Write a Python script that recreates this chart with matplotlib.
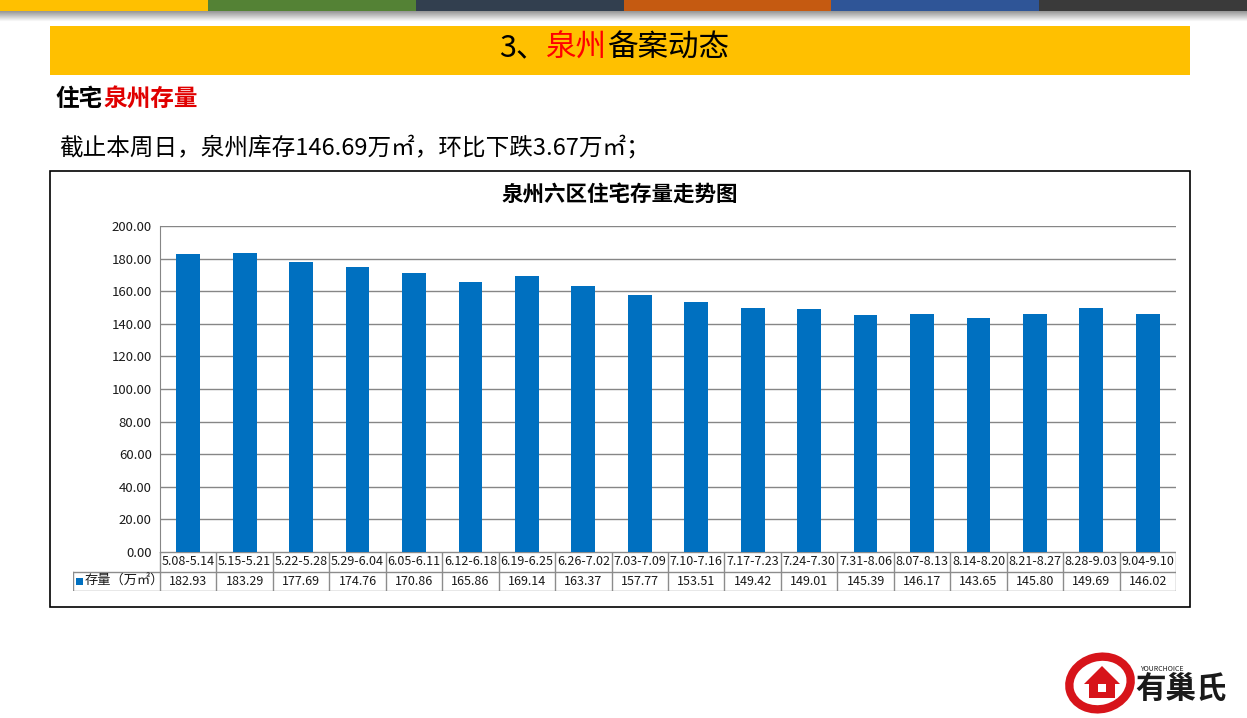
import numpy as np
import matplotlib.pyplot as plt
from matplotlib.patches import Rectangle, Ellipse, Polygon

plt.rcParams['font.family'] = ['Noto Sans CJK SC', 'DejaVu Sans']

# 数据
weeks = ['5.08-5.14', '5.15-5.21', '5.22-5.28', '5.29-6.04', '6.05-6.11', '6.12-6.18',
         '6.19-6.25', '6.26-7.02', '7.03-7.09', '7.10-7.16', '7.17-7.23', '7.24-7.30',
         '7.31-8.06', '8.07-8.13', '8.14-8.20', '8.21-8.27', '8.28-9.03', '9.04-9.10']
stock = [182.93, 183.29, 177.69, 174.76, 170.86, 165.86, 169.14, 163.37, 157.77,
         153.51, 149.42, 149.01, 145.39, 146.17, 143.65, 145.80, 149.69, 146.02]
series_name = '存量（万㎡）'
yticks = np.arange(0, 201, 20)

W, H = 1247, 718
fig = plt.figure(figsize=(W / 100, H / 100), dpi=100)
renderer = fig.canvas.get_renderer()

# 背景层，像素坐标
bg = fig.add_axes([0, 0, 1, 1])
bg.set_xlim(0, W)
bg.set_ylim(H, 0)
bg.axis('off')


def run_text(x, y, parts, **kw):
    # 几段不同颜色的文字接着排
    for s, c in parts:
        t = bg.text(x, y, s, color=c, va='center', ha='left', **kw)
        x += t.get_window_extent(renderer).width


# 顶部彩条
strip_cols = ['#FFC000', '#548235', '#323F4F', '#C55A11', '#2F5597', '#3A3A3A']
seg = W / 6
for i, c in enumerate(strip_cols):
    bg.add_patch(Rectangle((i * seg, 0), seg, 11, color=c, lw=0))
grad = np.linspace(0.6, 1, 12)[:, None] * np.ones((12, 10))
bg.imshow(grad, cmap='gray', vmin=0, vmax=1, extent=(0, W, 22, 11), aspect='auto', zorder=1)

# 标题栏
bg.add_patch(Rectangle((50, 26), 1140, 49, color='#FFC000', lw=0))
run_text(499, 48, [('3、', 'black'), ('泉州', '#FF0000'), ('备案动态', 'black')], fontsize=22)

run_text(56, 99, [('住宅', 'black'), ('泉州存量', '#E00000')], fontsize=17, fontweight='bold')
bg.text(59, 147, '截止本周日，泉州库存146.69万㎡，环比下跌3.67万㎡；', fontsize=17,
        va='center', ha='left', color='black')

# 图表边框
bg.add_patch(Rectangle((50, 171), 1140, 436, fill=False, ec='black', lw=1.2))
bg.text(620, 194, '泉州六区住宅存量走势图', fontsize=15.5, fontweight='bold',
        va='center', ha='center', color='black')

# logo
bg.add_patch(Ellipse((1100, 683), 62, 52, angle=-15, fill=False, ec='#D7141A', lw=6))
bg.add_patch(Polygon([[1084, 684], [1102, 666], [1120, 684], [1115, 684], [1115, 698],
                      [1089, 698], [1089, 684]], closed=True, color='#D7141A', lw=0))
bg.add_patch(Rectangle((1098, 684), 8, 8, color='white', lw=0))
bg.text(1135, 690, '有巢氏', fontsize=22, fontweight='bold', style='italic',
        va='center', ha='left', color='#1A1A1A')
bg.text(1140, 669, 'YOURCHOICE', fontsize=5, style='italic', va='center', ha='left',
        color='#1A1A1A')

# 主图
x0, x1, ytop, ybot = 160, 1176, 226, 552
ax = fig.add_axes([x0 / W, 1 - ybot / H, (x1 - x0) / W, (ybot - ytop) / H])
x = np.arange(len(weeks))
ax.bar(x, stock, width=0.42, color='#0070C0', zorder=3)
ax.set_xlim(-0.5, len(weeks) - 0.5)
ax.set_ylim(0, 200)
ax.set_yticks(yticks)
ax.set_yticklabels(['%.2f' % v for v in yticks], fontsize=9.5, color='#1A1A1A')
ax.set_xticks([])
ax.grid(axis='y', color='#868686', lw=1, zorder=0)
for s in ['top', 'right', 'bottom']:
    ax.spines[s].set_visible(False)
ax.spines['left'].set_color('#868686')
ax.tick_params(axis='y', length=0, pad=6)

# 数据表
cw = (x1 - x0) / len(weeks)
lead = (x0 - 73) / cw
tb = fig.add_axes([73 / W, 1 - 591 / H, (x1 - 73) / W, 39 / H])
tb.set_xlim(-0.5 - lead, len(weeks) - 0.5)
tb.set_ylim(0, 2)
tb.axis('off')
lc = '#8C8C8C'
tb.plot([-0.5, len(weeks) - 0.5], [2, 2], color=lc, lw=1)
tb.plot([-0.5 - lead, len(weeks) - 0.5], [1, 1], color=lc, lw=1)
tb.plot([-0.5 - lead, len(weeks) - 0.5], [0, 0], color=lc, lw=1)
tb.plot([-0.5 - lead, -0.5 - lead], [0, 1], color=lc, lw=1)
for b in np.arange(len(weeks) + 1) - 0.5:
    tb.plot([b, b], [0, 2], color=lc, lw=1)
for i, (w, v) in enumerate(zip(weeks, stock)):
    tb.text(i, 1.5, w, fontsize=9, ha='center', va='center', color='#1A1A1A')
    tb.text(i, 0.5, '%.2f' % v, fontsize=9, ha='center', va='center', color='#1A1A1A')
tb.add_patch(Rectangle((-0.5 - lead + 0.06, 0.32), 0.11, 0.36, color='#0070C0', lw=0))
tb.text(-0.5 - lead + 0.2, 0.5, series_name, fontsize=9.5, ha='left', va='center',
        color='#1A1A1A')

fig.savefig('out.png', dpi=100)
